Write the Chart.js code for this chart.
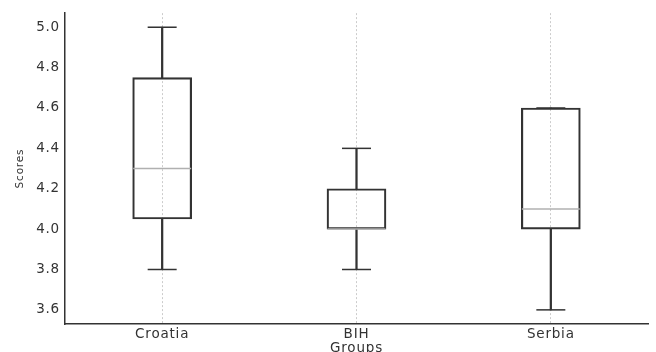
<!DOCTYPE html>
<html>
<head>
<meta charset="utf-8">
<script src="https://cdn.jsdelivr.net/npm/chart.js@4"></script>
<style>
  html, body { margin: 0; padding: 0; background: #fff; }
  #wrap { width: 656px; height: 352px; position: relative; }
</style>
</head>
<body>
<div id="wrap"><canvas id="myChart"></canvas></div>
<script>
const groups = ['Croatia', 'BIH', 'Serbia'];
const mins = [3.8, 3.8, 3.6];
const q1s = [4.05, 4.0, 4.0];
const medians = [4.3, 4.0, 4.1];
const q3s = [4.75, 4.2, 4.6];
const maxs = [5.0, 4.4, 4.6];
const yTicks = [3.6, 3.8, 4.0, 4.2, 4.4, 4.6, 4.8, 5.0];

const dark = '#333333';

function ranges(a, b){
    return a.map((v, i) => [v, b[i]]);
}

// matplotlib text looks wider than plain canvas text
const spacing = {
    id: 'spacing',
    beforeUpdate(chart){ chart.ctx.letterSpacing = '0.8px'; },
    beforeDraw(chart){ chart.ctx.letterSpacing = '0.8px'; }
};

const data = {
    labels: groups,
    datasets: [
      {
        type: 'line', label: 'median', data: medians, order: 0,
        showLine: false, pointStyle: 'line', pointRadius: 29, pointHoverRadius: 29,
        pointBorderColor: '#b0b0b0', pointBorderWidth: 1.5
      },
      {
        type: 'line', label: 'min cap', data: mins, order: 1,
        showLine: false, pointStyle: 'line', pointRadius: 14.5, pointHoverRadius: 14.5,
        pointBorderColor: dark, pointBorderWidth: 1.5
      },
      {
        type: 'line', label: 'max cap', data: maxs, order: 1,
        showLine: false, pointStyle: 'line', pointRadius: 14.5, pointHoverRadius: 14.5,
        pointBorderColor: dark, pointBorderWidth: 1.5
      },
      {
        type: 'bar', label: 'box', data: ranges(q1s, q3s), order: 2,
        grouped: false, barThickness: 59,
        backgroundColor: 'rgba(0,0,0,0)', borderColor: dark, borderWidth: 1.5, borderSkipped: false
      },
      {
        type: 'bar', label: 'lower whisker', data: ranges(mins, q1s), order: 3,
        grouped: false, barThickness: 1.6, backgroundColor: dark, borderWidth: 0
      },
      {
        type: 'bar', label: 'upper whisker', data: ranges(q3s, maxs), order: 3,
        grouped: false, barThickness: 1.6, backgroundColor: dark, borderWidth: 0
      }
    ]
};

const config = {
    type: 'bar',
    data: data,
    plugins: [spacing],
    options: {
        responsive: true,
        maintainAspectRatio: false,
        animation: false,
        events: [],
        layout: { autoPadding: false, padding: { left: 0, right: 8, top: 13, bottom: 0 } },
        plugins: { legend: { display: false }, tooltip: { enabled: false } },
        scales: {
            x: {
                offset: true,
                grid: { display: true, offset: false, drawTicks: false, color: '#cccccc', lineWidth: 1 },
                border: { display: true, color: dark, width: 1.5, dash: [2, 2] },
                ticks: { color: dark, padding: 2, font: { family: 'DejaVu Sans', size: 13.5 } },
                title: { display: true, text: 'Groups', color: dark, padding: { top: 0, bottom: -5 },
                         font: { family: 'DejaVu Sans', size: 13.5 } },
                afterFit(scale){ scale.height = 28; }
            },
            y: {
                min: 3.53,
                max: 5.07,
                afterBuildTicks(scale){ scale.ticks = yTicks.map(v => ({ value: v })); },
                grid: { drawOnChartArea: false, drawTicks: false },
                border: { display: true, color: dark, width: 1.5 },
                ticks: { color: dark, padding: 5, font: { family: 'DejaVu Sans', size: 13.5 },
                         callback: v => v.toFixed(1) },
                title: { display: true, text: 'Scores', color: dark, padding: { top: 14, bottom: 0 },
                         font: { family: 'DejaVu Sans', size: 10.5 } },
                afterFit(scale){ scale.width = 65; }
            }
        }
    }
};

const ctx = document.getElementById('myChart').getContext('2d');
const myChart = new Chart(ctx, config);
</script>
</body>
</html>
